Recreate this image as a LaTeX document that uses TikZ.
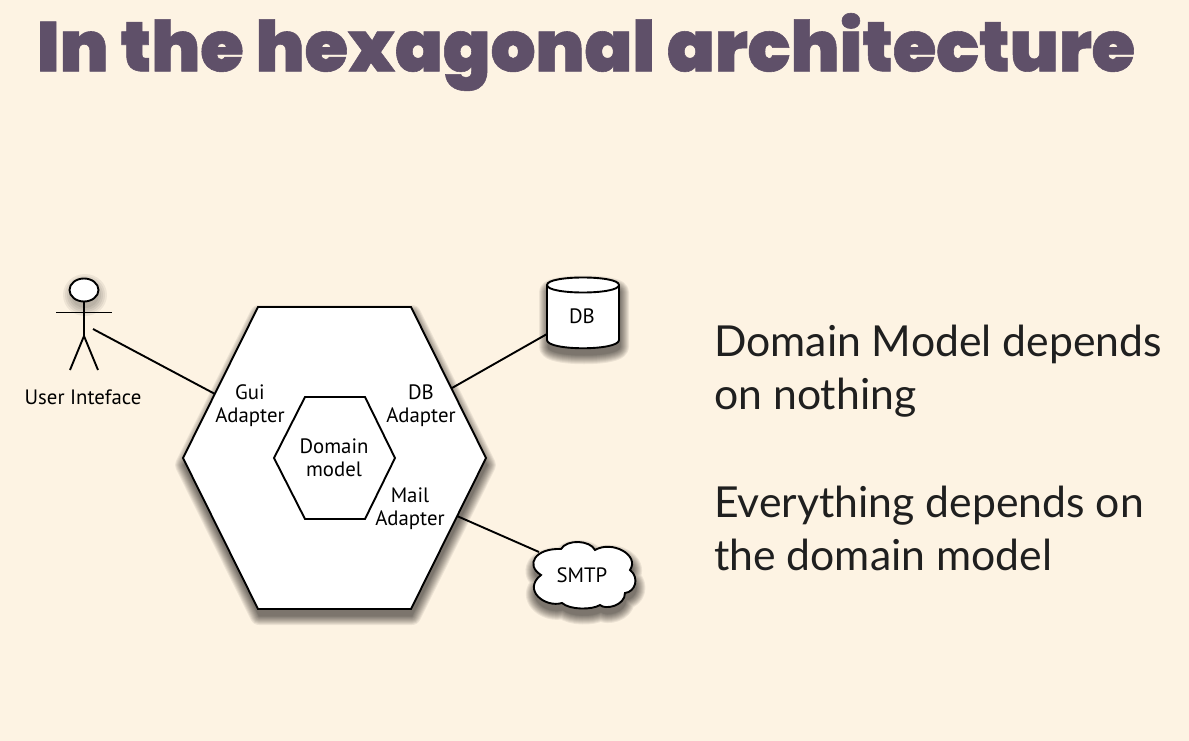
\documentclass[tikz,border=0pt]{standalone}
\usepackage{fontspec}
\setmainfont{Lato}
\newfontfamily\titlefont{Poppins}[UprightFont=* Black,FakeBold=0.8]
\newfontfamily\labelfont{PT Sans}
\newfontfamily\bodyfont{Lato}
\definecolor{paper}{HTML}{FDF3E3}
\definecolor{plum}{HTML}{5F5069}
\tikzset{
  x=1pt,y=-1pt,
  outline/.style={draw=black,fill=white,line width=1.9pt,line join=miter},
  wire/.style={draw=black,line width=1.9pt},
  lbl/.style={font=\labelfont\fontsize{20.8}{23}\selectfont,align=center,text=black,inner sep=0pt},
  bodytext/.style={font=\bodyfont\fontsize{42.7}{53}\selectfont,align=left,anchor=west,text=black!88,inner sep=0pt},
}
% soft shadow: path is repeated with shrinking widths
\newcommand{\softshadow}[3]{%
  \begin{scope}[shift={(#1,#2)}]
    \foreach \w in {18,16,14,12,10,8,6,4,2,0.5}{
      \begin{scope}[transparency group,opacity=.065]
        \path[draw=black,fill=black,line width=\w pt,line join=round] #3;
      \end{scope}
    }
  \end{scope}}
\begin{document}
\begin{tikzpicture}
\useasboundingbox (0,0) rectangle (1189,741);
\fill[paper] (0,0) rectangle (1189,741);

% title
\node[inner sep=0pt,text=plum] (title) at (586,52)
  {\resizebox{1098pt}{!}{\titlefont\fontsize{80}{90}\selectfont In the hexagonal architecture}};

% named ends of the connectors
\coordinate (actorEnd) at (93,329);
\coordinate (guiEnd) at (215,394);
\coordinate (dbOut) at (452,388);
\coordinate (dbEnd) at (547,334);
\coordinate (mailOut) at (457,516);
\coordinate (cloudEnd) at (539,552);

% shadows
\softshadow{1}{7}{(258,307)--(411,307)--(486,458)--(411,609)--(258,609)--(183,458)--cycle}
\softshadow{1}{7}{(547,285) -- (547,340) .. controls (547,351) and (619,351) .. (619,340) -- (619,285) .. controls (619,275) and (547,275) .. (547,285) -- cycle}
\softshadow{1}{7}{(541,575) .. controls (525,565) and (535,548) .. (561,549) .. controls (567,539) and (590,540) .. (595,550) .. controls (612,540) and (640,555) .. (630,570) .. controls (640,578) and (635,592) .. (625,593) .. controls (625,606) and (605,610) .. (600,605) .. controls (592,610) and (570,610) .. (562,603) .. controls (545,608) and (522,590) .. (541,575) -- cycle}
\foreach \w in {22,20,18,16,14}{
  \fill[black,opacity=.06] (85,295) ellipse [x radius=\w,y radius=\w-1];
}

% connectors
\draw[wire] (actorEnd) -- (guiEnd);
\draw[wire] (dbOut) -- (dbEnd);
\draw[wire] (mailOut) -- (cloudEnd);

% hexagons
\draw[outline] (258,307)--(411,307)--(486,458)--(411,609)--(258,609)--(183,458)--cycle;
\draw[outline] (305,397)--(365,397)--(395,458)--(365,519)--(305,519)--(274,458)--cycle;

% actor
\draw[outline] (84,290) ellipse [x radius=14.5,y radius=11.5];
\draw[wire] (84,302)--(84,336);
\draw[wire] (56,312.5)--(112,312.5);
\draw[wire] (70,370)--(84,336)--(98,370);

% database
\draw[outline] (547,285) -- (547,340) .. controls (547,351) and (619,351) .. (619,340) -- (619,285) .. controls (619,275) and (547,275) .. (547,285) -- cycle;
\draw[black,line width=1.9pt] (547,285) .. controls (547,295) and (619,295) .. (619,285);

% cloud
\draw[outline] (541,575) .. controls (525,565) and (535,548) .. (561,549) .. controls (567,539) and (590,540) .. (595,550) .. controls (612,540) and (640,555) .. (630,570) .. controls (640,578) and (635,592) .. (625,593) .. controls (625,606) and (605,610) .. (600,605) .. controls (592,610) and (570,610) .. (562,603) .. controls (545,608) and (522,590) .. (541,575) -- cycle;

% labels
\node[lbl] (user) at (83,397) {User Inteface};
\node[lbl] (gui) at (250,405.5) {Gui\\Adapter};
\node[lbl] (dba) at (421,405.5) {DB\\Adapter};
\node[lbl] (mail) at (410,508.5) {Mail\\Adapter};
\node[lbl] (domain) at (334,458) {Domain\\model};
\node[lbl] (db) at (582,316) {DB};
\node[lbl] (smtp) at (582,575) {SMTP};

% body text
\node[bodytext] (t1) at (714,371) {Domain Model depends\\on nothing};
\node[bodytext] (t2) at (714,528) {Everything depends on\\the domain model};
\end{tikzpicture}
\end{document}
